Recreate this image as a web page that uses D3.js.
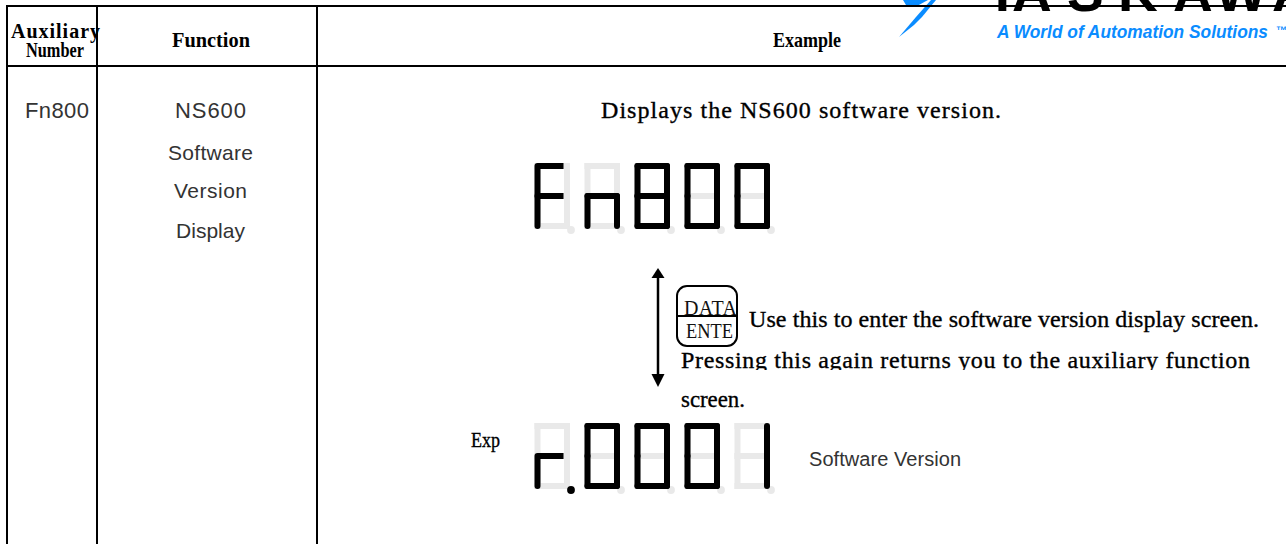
<!DOCTYPE html>
<html>
<head>
<meta charset="utf-8">
<script src="https://d3js.org/d3.v7.min.js"></script>
<style>
	html, body { margin: 0; padding: 0; background: #fff; overflow: hidden; }
	svg { display: block; }
	.mincho { font-family: "Liberation Serif", serif; fill: #000; stroke: #000; stroke-width: 0.35px; }
	.head { font-family: "Liberation Serif", serif; fill: #000; font-weight: bold; }
	.sans { font-family: "Liberation Sans", Arial, sans-serif; fill: #333; font-size: 20px; }
	.serif { font-family: "Liberation Serif", serif; fill: #111; }
</style>
</head>
<body>
<svg id="chart" width="1286" height="544"></svg>
<script>
// table text
var headerAux = ["Auxiliary", "Number"];
var headerFunction = "Function";
var headerExample = "Example";
var auxNumber = "Fn800";
var functionLines = ["NS600", "Software", "Version", "Display"];
var descLines = [
	"Displays the NS600 software version.",
	"Use this to enter the software version display screen.",
	"Pressing this again returns you to the auxiliary function",
	"screen."
];
var keyLines = ["DATA", "ENTE"];
var expLabel = "Exp";
var versionLabel = "Software Version";
var logoName = "YASKAWA";
var logoTag = "A World of Automation Solutions";

// seven segment displays
var displayTop = ["F", "n", "8", "0", "0"];
var displayBottom = ["r", "0", "0", "0", "1"];
var dotsTop = [0, 0, 0, 0, 0];
var dotsBottom = [1, 0, 0, 0, 0];
var segmentNames = ["a", "b", "c", "d", "e", "f", "g"];
var glyphs = { F: "aefg", n: "ceg", r: "eg", "0": "abcdef", "1": "bc", "8": "abcdefg" };

var svg = d3.select("#chart");

function addText(x, y, str, cls, size, weight, width) {
	var t = svg.append("text")
		.attr("x", x)
		.attr("y", y)
		.attr("class", cls)
		.text(str);
	if (size) t.style("font-size", size + "px");
	if (weight) t.style("font-weight", weight);
	// the source font is a fixed width bitmap, so force the run length
	if (width) {
		var natural = t.node().getComputedTextLength();
		t.attr("textLength", width)
			.attr("lengthAdjust", natural > width ? "spacingAndGlyphs" : "spacing");
	}
	return t;
}

// logo first, the table rule goes over it
function drawLogo() {
	svg.append("path")
		.attr("d", "M903,0 L928,0 L917,6 L906,5 Z")
		.attr("fill", "#0a8cff");
	svg.append("path")
		.attr("d", "M936,0 L931,0 L916,17 L899,37 L914,25 L922,17 Z")
		.attr("fill", "#0a8cff");
	svg.append("text")
		.attr("x", "984 1012 1067 1118 1173 1215 1272")
		.attr("y", 11)
		.attr("class", "sans")
		.style("font-size", "55px")
		.style("font-weight", "bold")
		.style("fill", "#000")
		.text(logoName);
	addText(997, 38, logoTag, "sans", 17.5, "bold", 271)
		.style("fill", "#0a8cff")
		.style("font-style", "italic");
	addText(1276, 34, "\u2122", "sans", 11, "bold").style("fill", "#0a8cff");
}

function drawTable() {
	var rules = svg.append("g").attr("stroke", "#000").attr("stroke-width", 2);
	[7, 97, 317].forEach(function(x) {
		rules.append("line").attr("x1", x).attr("x2", x).attr("y1", 5).attr("y2", 544);
	});
	rules.append("line").attr("x1", 6).attr("x2", 1286).attr("y1", 6).attr("y2", 6);
	rules.append("line").attr("x1", 6).attr("x2", 1286).attr("y1", 66).attr("y2", 66);

	addText(11, 38, headerAux[0], "head", 20, null, 89);
	addText(26, 57, headerAux[1], "head", 20, null, 58);
	addText(172, 47, headerFunction, "head", 21, null, 78);
	addText(773, 47, headerExample, "head", 21, null, 68);

	addText(25, 118, auxNumber, "sans", 22, null, 64);
	var lineY = [118, 160, 198, 238];
	var lineX = [175, 168, 174, 176];
	var lineW = [71, 85, 73, 69];
	var lineS = [22, 21, 21, 21];
	functionLines.forEach(function(str, i) {
		addText(lineX[i], lineY[i], str, "sans", lineS[i], null, lineW[i]);
	});
}

function drawDisplay(chars, dots, yTop) {
	var col = d3.scaleLinear().domain([0, 4]).range([537.5, 737.5]);
	var row = d3.scaleLinear().domain([0, 2]).range([yTop, yTop + 60]);
	var w = 29.5;
	// segment ends as [column side, row] pairs
	var ends = {
		a: [[0, 0], [1, 0]],
		b: [[1, 0], [1, 1]],
		c: [[1, 1], [1, 2]],
		d: [[0, 2], [1, 2]],
		e: [[0, 1], [0, 2]],
		f: [[0, 0], [0, 1]],
		g: [[0, 1], [1, 1]]
	};
	var g = svg.append("g").attr("fill", "none");

	function seg(parent, i, name, trim) {
		var e = ends[name];
		return parent.append("line")
			.attr("x1", col(i) + e[0][0] * w)
			.attr("y1", row(e[0][1]))
			.attr("x2", col(i) + e[1][0] * w - trim)
			.attr("y2", row(e[1][1]))
			.attr("stroke-width", 6);
	}

	chars.forEach(function(c, i) {
		// unlit segments sit behind
		segmentNames.forEach(function(name) {
			seg(g, i, name, 0).attr("stroke", "#e9e9e9").attr("stroke-linecap", "square");
		});
		svg.append("circle")
			.attr("cx", col(i) + 33.5)
			.attr("cy", row(2) + 4)
			.attr("r", 3.9)
			.attr("fill", dots[i] ? "#000" : "#e9e9e9");
	});
	var lit = svg.append("g");
	chars.forEach(function(c, i) {
		var code = glyphs[c];
		// bars with no right hand stem stop short of the right column, flat ended
		var open = code.indexOf("b") < 0 && code.indexOf("c") < 0;
		code.split("").forEach(function(name) {
			var flat = open && (name == "a" || name == "g");
			seg(lit, i, name, flat ? 3.5 : 0)
				.attr("stroke", "#000")
				.attr("stroke-linecap", flat ? "butt" : "round");
		});
	});
}

function drawArrow() {
	var a = svg.append("g");
	a.append("line")
		.attr("x1", 658).attr("x2", 658).attr("y1", 274).attr("y2", 378)
		.attr("stroke", "#000").attr("stroke-width", 2.5);
	a.append("path").attr("d", "M658,268 L664.5,278 L651.5,278 Z").attr("fill", "#000");
	a.append("path").attr("d", "M658,387 L664.5,374 L651.5,374 Z").attr("fill", "#000");
}

function drawKey() {
	svg.append("rect")
		.attr("x", 677).attr("y", 286)
		.attr("width", 60).attr("height", 60)
		.attr("rx", 10)
		.attr("fill", "none").attr("stroke", "#000").attr("stroke-width", 2);
	addText(684, 315, keyLines[0], "serif", 20, null, 53);
	addText(686, 338, keyLines[1], "serif", 20, null, 47);
	svg.append("line")
		.attr("x1", 677).attr("x2", 737).attr("y1", 316).attr("y2", 316)
		.attr("stroke", "#000").attr("stroke-width", 2);
}

function drawDescription() {
	svg.append("defs").append("clipPath").attr("id", "cutLine")
		.append("rect").attr("x", 670).attr("y", 345).attr("width", 616).attr("height", 25);

	addText(601, 118, descLines[0], "mincho", 24, null, 400);
	addText(749, 327, descLines[1], "mincho", 24, null, 510);
	addText(681, 368, descLines[2], "mincho", 24, null, 569)
		.attr("clip-path", "url(#cutLine)");
	addText(681, 407, descLines[3], "mincho", 24, null, 64);
	addText(471, 447, expLabel, "mincho", 21, null, 29);
	addText(809, 466, versionLabel, "sans", 20, null, 152);
}

drawLogo();
drawTable();
drawDisplay(displayTop, dotsTop, 166);
drawDisplay(displayBottom, dotsBottom, 426);
drawArrow();
drawKey();
drawDescription();
</script>
</body>
</html>
